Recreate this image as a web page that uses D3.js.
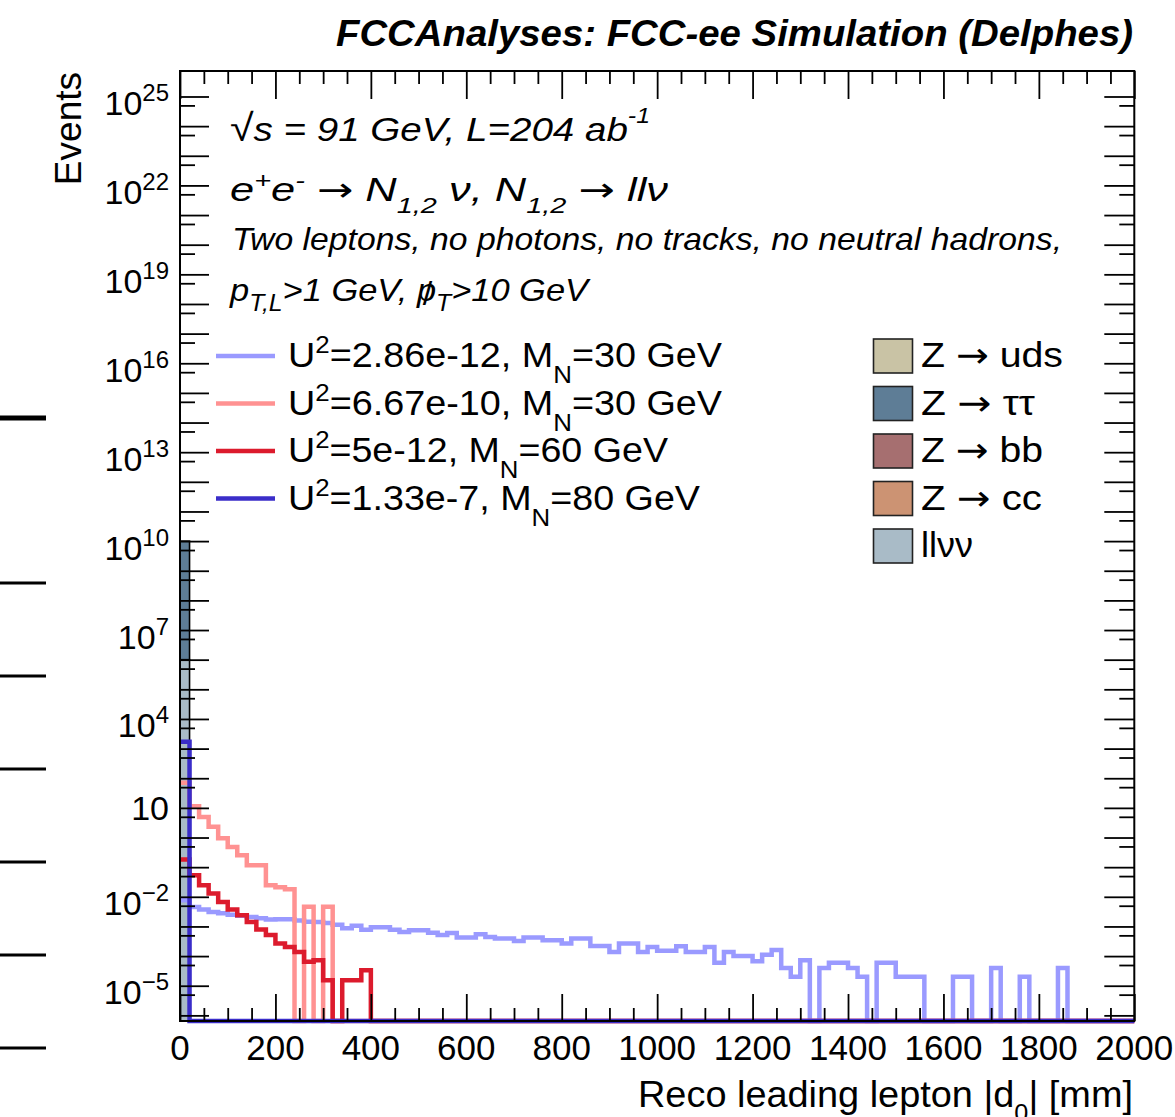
<!DOCTYPE html>
<html><head><meta charset="utf-8">
<script src="https://cdn.jsdelivr.net/npm/d3@7"></script>
<style>
html,body{margin:0;padding:0;background:#fff;}
svg text{font-family:"Liberation Sans",Arial,Helvetica,sans-serif; white-space:pre; fill:#000;}
.arr{font-family:"DejaVu Sans",sans-serif; font-style:normal;}
</style></head><body>
<svg id="c" width="1175" height="1117"></svg>
<script>
// ---------------- DATA ----------------
const xMin = 0, xMax = 2000, nBins = 100;           // 20 mm bins
const xTickLabels = ["0","200","400","600","800","1000","1200","1400","1600","1800","2000"];
const yLabelExponents = [25,22,19,16,13,10,7,4,1,-2,-5];

// signals (events per bin)
const sigU286e12_M30 = [
 7.7e-3,4.5e-3,3.7e-3,3.1e-3,2.8e-3,2.5e-3,2.3e-3,2.1e-3,1.9e-3,1.7e-3,
 1.75e-3,1.75e-3,1.6e-3,1.45e-3,1.4e-3,1.3e-3,1.15e-3,8.7e-4,1.06e-3,7.7e-4,
 9.4e-4,9.4e-4,7.7e-4,6.5e-4,7.4e-4,7.4e-4,6.1e-4,5.1e-4,6.0e-4,4.2e-4,
 4.2e-4,5.5e-4,4.4e-4,3.9e-4,3.9e-4,3.2e-4,4.2e-4,4.2e-4,3.4e-4,3.4e-4,
 2.65e-4,3.9e-4,3.9e-4,2.2e-4,2.2e-4,1.38e-4,2.65e-4,2.65e-4,1.38e-4,2.04e-4,
 1.5e-4,1.5e-4,2.15e-4,1.38e-4,1.38e-4,2.04e-4,6e-5,1.38e-4,1.0e-4,1.0e-4,
 6.7e-5,1.1e-4,1.6e-4,4e-5,2e-5,7.2e-5,0,4e-5,6e-5,6e-5,
 4e-5,2e-5,0,6e-5,6e-5,2e-5,2e-5,2e-5,0,0,
 0,2e-5,2e-5,0,0,4e-5,0,0,2e-5,0,
 0,0,4e-5,0,0,0,0,0,0,0];
const sigU667e10_M30 = [
 70,11.4,4.97,2.29,0.95,0.48,0.25,0.116,0.116,0.0246,
 0.0211,0.018,0,4.6e-3,0,4.6e-3,0,0,0,0,
 0,0,0,0,0,0,0,0,0,0, 0,0,0,0,0,0,0,0,0,0,
 0,0,0,0,0,0,0,0,0,0, 0,0,0,0,0,0,0,0,0,0,
 0,0,0,0,0,0,0,0,0,0, 0,0,0,0,0,0,0,0,0,0,
 0,0,0,0,0,0,0,0,0,0, 0,0,0,0,0,0,0,0,0,0];
const sigU5e12_M60 = [
 0.18,0.0536,0.0246,0.0129,6.7e-3,3.7e-3,2.4e-3,1.42e-3,7.9e-4,5.1e-4,
 2.65e-4,2.04e-4,1.38e-4,6.4e-5,7.2e-5,1.53e-5,0,1.53e-5,1.53e-5,3.3e-5,
 0,0,0,0,0,0,0,0,0,0, 0,0,0,0,0,0,0,0,0,0,
 0,0,0,0,0,0,0,0,0,0, 0,0,0,0,0,0,0,0,0,0,
 0,0,0,0,0,0,0,0,0,0, 0,0,0,0,0,0,0,0,0,0,
 0,0,0,0,0,0,0,0,0,0, 0,0,0,0,0,0,0,0,0,0];
const sigU133e7_M80 = [
 1700,0,0,0,0,0,0,0,0,0, 0,0,0,0,0,0,0,0,0,0,
 0,0,0,0,0,0,0,0,0,0, 0,0,0,0,0,0,0,0,0,0,
 0,0,0,0,0,0,0,0,0,0, 0,0,0,0,0,0,0,0,0,0,
 0,0,0,0,0,0,0,0,0,0, 0,0,0,0,0,0,0,0,0,0,
 0,0,0,0,0,0,0,0,0,0, 0,0,0,0,0,0,0,0,0,0];
// backgrounds (stacked); only first bin populated
const bkgLLVV    = [1.0e6].concat(new Array(99).fill(0));
const bkgZtautau = [1.0e10].concat(new Array(99).fill(0));
const bkgZuds    = new Array(100).fill(0);
const bkgZbb     = new Array(100).fill(0);
const bkgZcc     = new Array(100).fill(0);

const signalLegend = [["2.86e-12","30"],["6.67e-10","30"],["5e-12","60"],["1.33e-7","80"]];
const bkgLegend = [["Z ","\u2192"," uds"],["Z ","\u2192"," \u03C4\u03C4"],["Z ","\u2192"," bb"],["Z ","\u2192"," cc"],["ll\u03BD\u03BD"]];

// ---------------- STYLE ----------------
const sigColors = ["#9a9aff","#ff9292","#dc1b2d","#3a2dc9"];
const bkgColors = {uds:"#c9c3a5", tautau:"#5e7d96", bb:"#a66f70", cc:"#cc9373", llvv:"#a9bbc7"};

const svg = d3.select("#c");
svg.append("rect").attr("width",1175).attr("height",1117).attr("fill","#fff");
const F = {l:180, r:1134.3, t:71, b:1021};
const x = d3.scaleLinear().domain([xMin,xMax]).range([F.l,F.r]);
const y = d3.scaleLog().domain([Math.pow(10,-6.19), Math.pow(10,25.86)]).range([F.b,F.t]);
const binW = (xMax-xMin)/nBins;
const edges = d3.range(nBins+1).map(i=>xMin+i*binW);
const yv = v => v>0 ? Math.min(F.b, y(v)) : F.b;

// left-edge marks (artifact of neighbouring pad)
[[418,5],[583,3],[676,3],[769,3],[862,3],[955,3],[1048,3]].forEach(([yy,w])=>{
  svg.append("line").attr("x1",0).attr("x2",46).attr("y1",yy).attr("y2",yy).attr("stroke","#000").attr("stroke-width",w);
});

// ---------------- STACK ----------------
const stackKeys = ["llvv","cc","bb","tautau","uds"];
const table = d3.range(nBins).map(i=>({i, llvv:bkgLLVV[i], cc:bkgZcc[i], bb:bkgZbb[i], tautau:bkgZtautau[i], uds:bkgZuds[i]}));
const stacked = d3.stack().keys(stackKeys)(table);
const gStack = svg.append("g");
stacked.forEach(layer=>{
  layer.forEach((d,i)=>{
    if (d[1] > d[0]) {
      const y0 = yv(d[0]), y1 = yv(d[1]);
      gStack.append("rect").attr("x",x(edges[i])).attr("width",x(edges[i+1])-x(edges[i]))
        .attr("y",y1).attr("height",y0-y1).attr("fill",bkgColors[layer.key])
        .attr("stroke","#000").attr("stroke-width",1.6);
    }
  });
});

// ---------------- SIGNAL LINES ----------------
const line = d3.line().x(d=>x(d[0])).y(d=>d[1]).curve(d3.curveStepAfter);
[sigU286e12_M30,sigU667e10_M30,sigU5e12_M60,sigU133e7_M80].forEach((vals,k)=>{
  const pts = vals.map((v,i)=>[edges[i], yv(v)]);
  pts.push([edges[nBins], yv(vals[nBins-1])]);
  svg.append("path").attr("d", line(pts)).attr("fill","none")
    .attr("stroke",sigColors[k]).attr("stroke-width",4.5).attr("stroke-linejoin","miter");
});

// ---------------- AXES ----------------
const xMajor = d3.range(0,2001,200), xMinorT = d3.range(0,2001,50).filter(v=>v%200!==0);
const decades = d3.range(-6,26).map(e=>Math.pow(10,e));
const halves = d3.range(-5,26).map(e=>5*Math.pow(10,e-1));
function ax(gen, tr, vals, size){
  svg.append("g").attr("transform",tr)
    .call(gen.tickValues(vals).tickSize(size).tickFormat(""))
    .call(g=>{g.select(".domain").remove(); g.selectAll("line").attr("stroke","#000").attr("stroke-width",1.8);});
}
ax(d3.axisBottom(x), `translate(0,${F.b})`, xMinorT, -13);
ax(d3.axisBottom(x), `translate(0,${F.b})`, xMajor, -27);
ax(d3.axisTop(x), `translate(0,${F.t})`, xMinorT, -13);
ax(d3.axisTop(x), `translate(0,${F.t})`, xMajor, -28);
ax(d3.axisLeft(y), `translate(${F.l},0)`, halves, -15);
ax(d3.axisLeft(y), `translate(${F.l},0)`, decades, -29);
ax(d3.axisRight(y), `translate(${F.r},0)`, halves, -15);
ax(d3.axisRight(y), `translate(${F.r},0)`, decades, -30);
svg.append("rect").attr("x",F.l).attr("y",F.t).attr("width",F.r-F.l).attr("height",F.b-F.t)
  .attr("fill","none").attr("stroke","#000").attr("stroke-width",2);

// ---------------- TEXT HELPERS ----------------
function rich(parent, xx, yy, segs, o){
  const t = parent.append("text").attr("x",xx).attr("y",yy).attr("font-size",o.size);
  if (o.italic) t.attr("font-style","italic");
  if (o.anchor) t.attr("text-anchor",o.anchor);
  if (o.weight) t.attr("font-weight",o.weight);
  let off = 0;
  const spans = [];
  segs.forEach(s=>{
    const target = s.sup ? -(o.raise||12) : s.sub ? (o.drop||12) : 0;
    const ts = t.append("tspan").text(s.t);
    if (target-off !== 0) ts.attr("dy", target-off);
    if (s.sup||s.sub) ts.attr("font-size", o.small);
    if (s.fs) ts.attr("font-size", s.fs);
    if (s.style) ts.attr("font-style", s.style);
    if (s.cls) ts.attr("class", s.cls);
    off = target;
    spans.push(ts);
  });
  if (o.len) t.attr("textLength",o.len).attr("lengthAdjust","spacingAndGlyphs");
  return {t, spans};
}

// tick labels
xTickLabels.forEach(l=>{
  svg.append("text").attr("x",x(+l)).attr("y",1060).attr("text-anchor","middle").attr("font-size",35).text(l);
});
yLabelExponents.forEach(e=>{
  const ty = y(Math.pow(10,e));
  if (e===1) {
    svg.append("text").attr("x",169).attr("y",ty+12.5).attr("text-anchor","end").attr("font-size",34).text("10");
  } else {
    rich(svg,169,ty+18.5,[{t:"10"},{t:(e<0?"\u2212":"")+Math.abs(e),sup:true}],{size:34,small:24,raise:14,anchor:"end"});
  }
});

// axis titles
svg.append("text").attr("transform","translate(81,72) rotate(-90)").attr("text-anchor","end").attr("font-size",37).text("Events");
rich(svg,638,1107,[{t:"Reco leading lepton |d"},{t:"0",sub:true},{t:"| [mm]"}],{size:36,small:24,drop:14,len:495});

// title
svg.append("text").attr("x",336).attr("y",46).attr("font-size",37)
  .attr("font-weight","bold").attr("font-style","italic")
  .attr("textLength",797).attr("lengthAdjust","spacingAndGlyphs")
  .text("FCCAnalyses: FCC-ee Simulation (Delphes)");

// text block
rich(svg,230,141,[{t:"\u221A",style:"normal",fs:38},{t:"s = 91 GeV, L=204 ab"},{t:"-1",sup:true}],{size:34,small:22,raise:18,italic:true,len:420});
rich(svg,230,201,[{t:"e"},{t:"+",sup:true},{t:"e"},{t:"-",sup:true},{t:" "},{t:"\u2192",cls:"arr"},{t:" N"},{t:"1,2",sub:true},
  {t:" \u03BD, N"},{t:"1,2",sub:true},{t:" "},{t:"\u2192",cls:"arr"},{t:" ll\u03BD"}],{size:33,small:22,raise:13,drop:12,italic:true,len:438});
svg.append("text").attr("x",232).attr("y",250).attr("font-size",32).attr("font-style","italic")
  .attr("textLength",830).attr("lengthAdjust","spacingAndGlyphs")
  .text("Two leptons, no photons, no tracks, no neutral hadrons,");
const l4 = rich(svg,230,301,[{t:"p"},{t:"T,L",sub:true},{t:">1 GeV, "},{t:"p"},{t:"T",sub:true},{t:">10 GeV"}],{size:32,small:23,drop:10,italic:true,len:358});
{
  const ext = l4.t.node().getExtentOfChar(12);
  svg.append("text").attr("x",ext.x+ext.width/2+1).attr("y",305).attr("text-anchor","middle")
    .attr("font-size",34).text("/");
}

// legends
const sigLegLen = [434,434,380,412];
signalLegend.forEach((s,i)=>{
  const yy = 356 + i*47.5;
  svg.append("line").attr("x1",216).attr("x2",275).attr("y1",yy).attr("y2",yy).attr("stroke",sigColors[i]).attr("stroke-width",4.5);
  rich(svg,288,yy+11,[{t:"U"},{t:"2",sup:true},{t:"="+s[0]+", M"},{t:"N",sub:true},{t:"="+s[1]+" GeV"}],{size:35,small:24,raise:14,drop:16,len:sigLegLen[i]});
});
const bkgLegendColors = [bkgColors.uds,bkgColors.tautau,bkgColors.bb,bkgColors.cc,bkgColors.llvv];
const bkgLegLen = [142,114,122,121,52];
bkgLegend.forEach((s,i)=>{
  const yy = 339 + i*47.5;
  svg.append("rect").attr("x",873.5).attr("y",yy).attr("width",39).attr("height",34).attr("fill",bkgLegendColors[i]).attr("stroke","#222").attr("stroke-width",1.6);
  const segs = s.map(p => p==="\u2192" ? {t:p,cls:"arr"} : {t:p});
  rich(svg,921,yy+28,segs,{size:35,len:bkgLegLen[i]});
});
</script>
</body></html>
